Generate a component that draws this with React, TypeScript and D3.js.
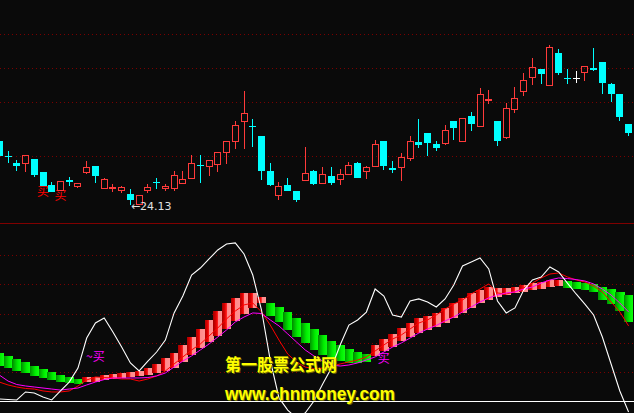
import React from 'react';
import * as d3 from 'd3';

const W = 634;
const H = 413;

// ---- price candles (73 sessions) ----
const opens = [27.33,26.58,26.23,26.23,26.43,25.78,25.13,24.88,25.36,25.08,
  25.78,26.08,24.98,24.98,24.88,24.68,24.18,24.88,25.26,24.98,
  24.98,25.23,25.48,26.11,26.08,26.18,26.78,27.33,28.33,28.06,
  27.58,25.83,24.63,25.13,24.83,25.38,25.83,25.23,25.58,25.43,
  25.68,26.23,25.83,26.08,27.33,25.98,26.03,26.48,27.28,27.73,
  27.18,27.23,28.33,27.33,28.58,28.08,29.38,28.33,27.53,28.93,
  29.83,30.53,30.93,30.13,31.73,30.48,30.50,30.78,30.98,31.28,
  30.18,29.68,28.18];
const closes = [26.58,26.51,26.08,26.63,25.63,25.08,24.78,25.33,25.28,25.23,
  26.03,25.58,25.43,25.03,25.01,24.38,24.63,25.03,25.21,25.06,
  25.63,25.43,26.23,26.06,26.38,26.78,27.33,28.13,28.73,28.01,
  25.83,25.13,25.08,24.83,24.38,25.73,25.18,25.68,25.23,25.68,
  26.13,25.48,26.03,27.18,26.08,25.88,26.53,27.33,27.13,27.23,
  26.98,27.88,27.98,28.48,28.18,29.68,29.43,27.33,28.98,29.48,
  30.38,31.03,30.68,32.03,30.73,30.43,30.50,31.08,30.88,30.23,
  29.68,28.53,27.73];
const highs = [27.33,26.83,26.38,26.63,26.43,25.78,25.28,25.33,25.53,25.23,
  26.33,26.08,25.48,25.18,25.08,24.93,24.63,25.18,25.48,25.18,
  25.83,25.83,26.63,26.63,26.38,26.78,27.33,28.33,29.83,28.43,
  27.58,26.23,25.28,25.48,24.83,27.03,25.88,26.03,26.03,25.93,
  26.28,26.28,26.08,27.38,27.33,26.33,26.73,27.58,28.43,27.73,
  27.33,28.13,28.33,28.48,28.78,29.98,29.88,28.33,29.23,30.03,
  30.73,31.48,30.93,32.13,31.93,30.93,30.83,31.08,31.98,31.28,
  30.23,29.68,28.18];
const lows = [26.58,26.23,25.83,25.78,25.53,25.08,24.78,24.88,25.08,24.98,
  25.68,25.23,24.98,24.78,24.73,24.13,24.16,24.73,24.93,24.83,
  24.83,25.23,25.48,25.23,25.58,25.78,26.18,26.93,26.93,27.03,
  25.38,25.08,24.38,24.83,24.28,25.38,25.13,25.23,25.13,25.13,
  25.63,25.48,25.43,26.08,25.88,25.73,25.33,26.33,26.98,26.58,
  26.83,27.13,27.38,27.33,27.83,28.08,29.18,27.08,27.43,28.73,
  29.58,30.13,30.18,30.13,30.63,30.18,30.23,30.33,30.83,29.68,
  29.28,28.33,27.58];
const priceGrid = [26.58, 29.28, 30.98, 32.68];
const priceBuySignals = [5, 7];

// ---- indicator panel ----
const jLine = [1.4,1.0,0.7,6.2,5.5,2.7,0.7,6.9,13.0,22.6,
  43.2,53.5,56.9,47.3,37.0,26.1,20.6,27.4,33.6,41.8,
  60.4,72.0,86.4,91.2,97.4,103.6,107.7,108.4,100.8,86.4,
  62.4,28.1,2.1,-6.2,-11.7,-8.2,0,11.7,22.6,38.4,
  52.1,55.6,61.0,76.8,72.0,59.0,57.6,68.6,70.0,67.9,
  64.5,70.0,79.6,92.6,95.3,98.1,90.6,68.6,60.4,63.8,
  76.1,83.0,85.0,91.9,88.5,80.9,73.4,66.5,59.0,43.9,
  25.4,6.9,-7.5];
const redLine = [13.0,11.0,9.6,8.6,8.2,6.9,6.2,6.2,6.9,10.3,
  14.4,16.5,16.1,15.8,15.1,15.1,13.7,15.1,17.2,20.6,
  25.4,30.2,35.0,39.1,44.6,50.1,56.3,61.7,65.9,67.2,
  61.1,52.1,41.8,32.2,26.8,23.3,22.0,22.6,24.0,25.4,
  26.8,28.1,30.2,34.3,38.4,42.5,45.3,49.4,53.5,55.6,
  59.0,63.1,66.5,69.3,73.4,76.8,80.3,74.1,73.4,74.8,
  77.5,80.9,84.4,87.1,87.8,85.1,83.0,81.6,78.9,74.8,
  67.9,61.1,51.5];
const magentaLine = [17.8,13.7,11.3,10.3,9.6,8.9,8.2,7.5,8.2,8.9,
  11.0,13.0,14.7,15.8,15.8,15.8,15.8,16.1,17.2,19.2,
  23.3,27.4,30.9,35.0,39.1,43.9,48.7,54.2,57.6,60.4,
  60.0,55.6,51.5,46.0,40.5,35.0,30.9,27.4,24.7,24.0,
  24.7,26.1,28.1,30.2,33.6,37.0,39.8,43.2,46.6,49.4,
  51.8,54.9,57.6,61.1,64.5,67.9,70.7,72.7,74.1,74.8,
  76.8,78.2,80.9,83.0,84.4,84.0,83.3,82.3,80.3,76.8,
  72.7,67.2,61.1];
const bandTop = [32.9,30.9,28.8,26.8,24.0,22.0,19.9,17.8,16.5,15.1,
  16.5,16.5,17.8,18.5,19.2,19.9,20.6,22.6,25.4,29.5,
  32.9,38.4,43.9,49.4,55.6,61.7,67.2,70.7,74.1,74.1,
  71.3,67.2,64.5,61.1,56.9,53.5,49.4,45.3,41.2,38.4,
  35.7,33.6,32.2,38.4,42.5,46.0,50.1,53.5,56.9,58.3,
  60.4,63.8,67.2,70.7,74.1,76.1,78.2,77.5,77.5,78.2,
  79.6,80.9,81.6,83.0,83.0,82.3,81.6,80.9,80.3,78.2,
  76.8,74.8,72.7];
const bandBottom = [24.0,22.6,20.6,19.2,17.2,15.8,14.4,13.0,12.3,11.7,
  13.0,13.0,14.4,15.1,15.8,16.5,17.2,17.8,19.2,20.6,
  22.6,26.8,31.6,36.4,40.5,44.6,49.4,54.9,59.7,63.8,
  67.2,58.3,54.2,48.7,43.9,39.8,35.0,31.6,28.8,27.4,
  26.1,26.1,26.8,30.9,34.3,37.0,41.2,43.9,46.6,48.7,
  50.8,53.5,56.9,60.4,63.8,67.2,69.3,71.3,72.7,74.1,
  74.8,76.1,76.8,78.2,78.9,77.5,76.8,76.1,74.8,69.3,
  66.5,61.7,54.2];
const bandUp = [0,0,0,0,0,0,0,0,0,0,
  1,1,1,1,1,1,1,1,1,1,
  1,1,1,1,1,1,1,1,1,1,
  1,0,0,0,0,0,0,0,0,0,
  0,0,0,1,1,1,1,1,1,1,
  1,1,1,1,1,1,1,1,1,1,
  1,1,1,1,1,0,0,0,0,0,
  0,0,0];
const indGrid = [20, 40, 60, 80, 100];
const indSignals = [
  { i: 11, v: 27.4, label: '~买' },
  { i: 44, v: 26.1, label: '买' },
];

const RED = '#ff3a3a';
const CYAN = '#00ffff';
const GRID = '#7a0000';

export default function App() {
  const n = opens.length;
  const x = d3.scaleBand<number>().domain(d3.range(n)).range([-5.07, 632.95]).padding(0);
  const bw = x.bandwidth();
  const cx = (i: number) => (x(i) as number) + bw / 2;
  const yP = d3.scaleLinear().domain([24.13, 32.13]).range([205, 45]);
  const yI = d3.scaleLinear().domain([0, 100]).range([401, 255.2]);

  const lineGen = (arr: number[]) =>
    d3.line<number>().x((_, i) => cx(i)).y((v) => yI(v))(arr) as string;

  const minIdx = d3.minIndex(lows);

  const candles = opens.map((o, i) => {
    const c = closes[i];
    const L = Math.round(cx(i) - 3.5);
    const mid = L + 3.5;
    const yo = yP(o), yc = yP(c), yh = yP(highs[i]), yl = yP(lows[i]);
    const top = Math.round(Math.min(yo, yc));
    const bot = Math.round(Math.max(yo, yc));
    if (c > o) {
      const hgt = Math.max(1, bot - top);
      return (
        <g key={i} stroke={RED} fill="none" strokeWidth={1}>
          {yh < top && <line x1={mid} x2={mid} y1={Math.round(yh)} y2={top + 0.5} />}
          {yl > top + hgt && <line x1={mid} x2={mid} y1={top + hgt + 0.5} y2={Math.round(yl)} />}
          <rect x={L + 0.5} y={top + 0.5} width={6} height={hgt} />
        </g>
      );
    }
    if (c < o) {
      return (
        <g key={i}>
          <line x1={mid} x2={mid} y1={Math.round(yh)} y2={Math.round(yl)} stroke={CYAN} strokeWidth={1} />
          <rect x={L} y={top} width={7} height={Math.max(1, bot - top)} fill={CYAN} />
        </g>
      );
    }
    return (
      <g key={i} stroke="#ffffff" strokeWidth={1}>
        <line x1={mid} x2={mid} y1={Math.round(yh)} y2={Math.round(yl)} />
        <line x1={L} x2={L + 7} y1={top + 0.5} y2={top + 0.5} />
      </g>
    );
  });

  return (
    <svg
      width={W}
      height={H}
      viewBox={`0 0 ${W} ${H}`}
      style={{ position: 'absolute', left: 0, top: 0, display: 'block' }}
    >
      <defs>
        <linearGradient id="gRed" x1="0" x2="1" y1="0" y2="0">
          <stop offset="0" stopColor="#a80000" />
          <stop offset="0.3" stopColor="#e00000" />
          <stop offset="0.48" stopColor="#ff2020" />
          <stop offset="0.5" stopColor="#ff8a8a" />
          <stop offset="1" stopColor="#ff9494" />
        </linearGradient>
        <linearGradient id="gGreen" x1="0" x2="1" y1="0" y2="0">
          <stop offset="0" stopColor="#008c00" />
          <stop offset="0.6" stopColor="#00ee00" />
          <stop offset="1" stopColor="#10ff10" />
        </linearGradient>
        <clipPath id="lowClip">
          <rect x={0} y={224} width={W} height={H - 224} />
        </clipPath>
      </defs>
      <rect x={0} y={0} width={W} height={H} fill="#0a0a0a" />

      {/* top panel grid */}
      {priceGrid.map((g) => (
        <line key={g} x1={0} x2={W} y1={Math.round(yP(g)) + 0.5} y2={Math.round(yP(g)) + 0.5}
          stroke={GRID} strokeDasharray="1 3" shapeRendering="crispEdges" />
      ))}

      {/* buy glyphs under candles */}
      {priceBuySignals.map((i) => (
        <text key={i} x={cx(i)} y={yP(lows[i]) + 10} fill="#ff0000" fontSize={12}
          fontFamily="Noto Sans CJK SC" textAnchor="middle">买</text>
      ))}

      {candles}

      {/* lowest price marker */}
      <text x={cx(minIdx) + 0.5} y={yP(lows[minIdx]) + 5} fill="#e0e0e0" fontSize={11}
        fontFamily="DejaVu Sans">{'←' + lows[minIdx].toFixed(2)}</text>

      {/* divider */}
      <line x1={0} x2={W} y1={223.5} y2={223.5} stroke="#800000" strokeWidth={1} />

      <g clipPath="url(#lowClip)">
        {indGrid.map((g) => (
          <line key={g} x1={0} x2={W} y1={Math.round(yI(g)) + 0.5} y2={Math.round(yI(g)) + 0.5}
            stroke={GRID} strokeDasharray="1 3" shapeRendering="crispEdges" />
        ))}
        <line x1={0} x2={W} y1={Math.round(yI(0)) + 0.5} y2={Math.round(yI(0)) + 0.5}
          stroke="#ffffff" strokeWidth={1} />

        {/* ribbon */}
        {bandTop.map((t, i) => {
          const y1 = yI(t), y2 = yI(bandBottom[i]);
          return (
            <rect key={i} x={x(i) as number} y={y1} width={bw + 0.3} height={Math.max(1, y2 - y1)}
              fill={bandUp[i] ? 'url(#gRed)' : 'url(#gGreen)'} shapeRendering="crispEdges" />
          );
        })}

        <path d={lineGen(redLine)} fill="none" stroke="#ff0000" strokeWidth={1} />
        <path d={lineGen(magentaLine)} fill="none" stroke="#ff00ff" strokeWidth={1} />
        <path d={lineGen(jLine)} fill="none" stroke="#ffffff" strokeWidth={1.1} />

        {indSignals.map((s) => (
          <text key={s.i} x={cx(s.i)} y={yI(s.v)} fill="#ff00ff" fontSize={12}
            fontFamily="Noto Sans CJK SC" textAnchor="middle">{s.label}</text>
        ))}
      </g>

      {/* watermark */}
      <g fontWeight={700}>
        <text x={226} y={372} fontSize={16.5} fontFamily="Noto Sans CJK SC" fill="#6a6a00"
          textLength={112} lengthAdjust="spacingAndGlyphs">第一股票公式网</text>
        <text x={225} y={371} fontSize={16.5} fontFamily="Noto Sans CJK SC" fill="#ffff00"
          textLength={112} lengthAdjust="spacingAndGlyphs">第一股票公式网</text>
        <text x={226} y={401} fontSize={17.5} fontFamily="Liberation Sans, Arial, sans-serif" fill="#6a6a00"
          textLength={170} lengthAdjust="spacingAndGlyphs">www.chnmoney.com</text>
        <text x={225} y={400} fontSize={17.5} fontFamily="Liberation Sans, Arial, sans-serif" fill="#ffff00"
          textLength={170} lengthAdjust="spacingAndGlyphs">www.chnmoney.com</text>
      </g>
    </svg>
  );
}
